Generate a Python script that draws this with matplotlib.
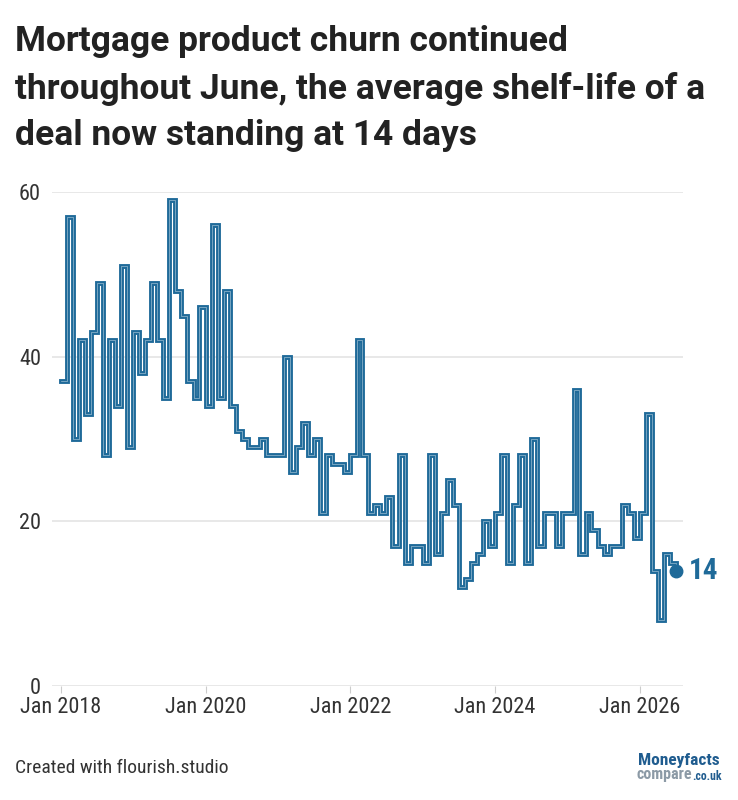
import datetime as dt
import matplotlib
matplotlib.use("Agg")
import matplotlib.pyplot as plt
import matplotlib.dates as mdates
from matplotlib import font_manager
from matplotlib.font_manager import FontProperties

# monthly average shelf-life (days), Jan 2018 onwards
start = dt.date(2018, 1, 1)
values = [
    37, 57, 30, 42, 33, 43, 49, 28, 42, 34, 51, 29,
    43, 38, 42, 49, 42, 35, 59, 48, 45, 37, 35, 46,
    34, 56, 35, 48, 34, 31, 30, 29, 29, 30, 28, 28,
    28, 40, 26, 29, 32, 28, 30, 21, 28, 27, 27, 26,
    28, 42, 28, 21, 22, 21, 23, 17, 28, 15, 17, 17,
    15, 28, 16, 21, 25, 22, 12, 13, 15, 16, 20, 17,
    21, 28, 15, 22, 28, 15, 30, 17, 21, 21, 17, 21,
    21, 36, 16, 21, 19, 17, 16, 17, 17, 22, 21, 18,
    21, 33, 14, 8, 16, 15, 14,
]
dates = [dt.date(start.year + (start.month - 1 + i) // 12, (start.month - 1 + i) % 12 + 1, 1)
         for i in range(len(values))]

y_ticks = [0, 20, 40, 60]
x_tick_years = [2018, 2020, 2022, 2024, 2026]

title = "Mortgage product churn continued\nthroughout June, the average shelf-life of a\ndeal now standing at 14 days"
footer = "Created with flourish.studio"

BLUE = "#1f6a99"
TEXT = "#333333"
GRID = "#e4e4e4"


def condensed(weight="normal"):
    # look for a narrow face, otherwise fall back to Roboto
    cands = []
    for f in font_manager.fontManager.ttflist:
        fn = f.fname.lower()
        if "condensed" in fn or "narrow" in fn or f.stretch in ("condensed", "semi-condensed"):
            if "italic" in fn or "oblique" in fn or f.style != "normal":
                continue
            is_bold = "bold" in fn or f.weight in (600, 700, "bold")
            if is_bold == (weight == "bold"):
                cands.append(f)
    pref = ["roboto", "liberation", "dejavu", "open"]
    cands.sort(key=lambda f: next((i for i, p in enumerate(pref) if p in f.fname.lower()), 9))
    if cands:
        return FontProperties(fname=cands[0].fname)
    return FontProperties(family="Roboto", weight=weight)


plt.rcParams["font.family"] = ["Roboto", "DejaVu Sans"]
fp_tick = condensed()
fp_bold = condensed("bold")

fig = plt.figure(figsize=(7.38, 8.0), dpi=100)
ax = fig.add_axes([0.0705, 0.1425, 0.855, 0.6175])

ax.step(dates, values, where="post", color=BLUE, lw=3.5, solid_joinstyle="miter", zorder=3, clip_on=False)
ax.step(dates, values, where="post", color="white", lw=0.5, alpha=0.55, zorder=4, clip_on=False)
ax.plot(dates[-1], values[-1], "o", color=BLUE, ms=9, zorder=5, clip_on=False)
lab = ax.annotate(str(values[-1]), (dates[-1], values[-1]), xytext=(9, 0), textcoords="offset points",
                  va="center", ha="left", color=BLUE, annotation_clip=False)
lab.set_fontproperties(fp_bold)
lab.set_fontsize(21)

ax.set_ylim(0, 60)
ax.set_xlim(dt.date(2017, 11, 17), dt.date(2026, 8, 6))
ax.set_yticks(y_ticks)
ax.set_xticks([dt.date(y, 1, 1) for y in x_tick_years])
ax.xaxis.set_major_formatter(mdates.DateFormatter("%b %Y"))

for s in ax.spines.values():
    s.set_visible(False)
ax.grid(axis="y", color=GRID, lw=1.2)
ax.set_axisbelow(True)
ax.tick_params(axis="y", length=0, pad=8, labelcolor=TEXT)
ax.tick_params(axis="x", length=5, color="#cccccc", pad=3, labelcolor=TEXT)
for t in ax.get_xticklabels() + ax.get_yticklabels():
    t.set_fontproperties(fp_tick)
    t.set_fontsize(16)

fig.text(15 / 738, 1 - 25 / 800, title, ha="left", va="top", fontsize=25.5,
         fontweight="bold", color="#222222", linespacing=1.5)
ft = fig.text(15 / 738, 1 - 768 / 800, footer, ha="left", va="center", color=TEXT)
ft.set_fontproperties(fp_tick)
ft.set_fontsize(14)

m = fig.text(720 / 738, 1 - 761 / 800, "Moneyfacts", ha="right", va="center", color="#1f5c8f")
m.set_fontproperties(fp_bold)
m.set_fontsize(12.5)
c1 = fig.text(692 / 738, 1 - 775 / 800, "compare", ha="right", va="center", color="#8c9aa6")
c1.set_fontproperties(fp_bold)
c1.set_fontsize(11.5)
c2 = fig.text(692 / 738, 1 - 776 / 800, ".co.uk", ha="left", va="center", color="#1f5c8f")
c2.set_fontproperties(fp_bold)
c2.set_fontsize(8.5)

fig.savefig("out.png", dpi=100)
